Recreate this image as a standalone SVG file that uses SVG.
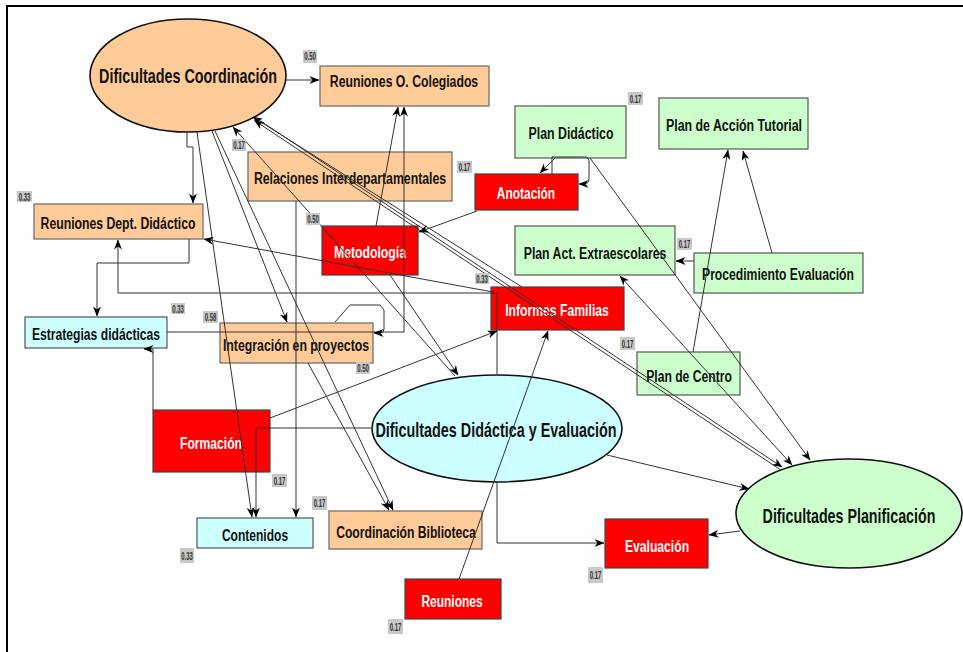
<svg xmlns="http://www.w3.org/2000/svg" width="963" height="652" viewBox="0 0 963 652">
<style>
text{font-family:"Liberation Sans",Arial,sans-serif;font-weight:bold;text-anchor:middle}
.t{font-size:17px;fill:#111}
.tw{font-size:17px;fill:#fff}
.te{font-size:20px;fill:#111}
.peach{fill:#FFCC99;stroke:#666;stroke-width:1.2}
.red{fill:#FF0000;stroke:#444;stroke-width:1.2}
.green{fill:#CCFFCC;stroke:#555;stroke-width:1.2}
.cyan{fill:#CCFFFF;stroke:#555;stroke-width:1.2}
.ell{stroke:#111;stroke-width:1.6}
.lbl rect{fill:#C8C8C8}
.lbl text{font-size:10px;fill:#333}
#connectors path{fill:none;stroke:#333;stroke-width:1}
</style>
<defs>
<marker id="ar" viewBox="0 0 10 8" refX="9.5" refY="4" markerWidth="10" markerHeight="8" markerUnits="userSpaceOnUse" orient="auto-start-reverse">
<path d="M0,0 L10,4 L0,8 L3,4 z" fill="#000"/>
</marker>
</defs>
<rect width="963" height="652" fill="#fff"/>
<path d="M7,652 V6 H963" fill="none" stroke="#000" stroke-width="2"/>

<g id="n-dc"><ellipse class="peach ell" cx="188" cy="75.5" rx="98" ry="56.5"/><text class="te" transform="matrix(0.72,0,0,1,188,83)" x="0" y="0" textLength="247" lengthAdjust="spacingAndGlyphs">Dificultades Coordinación</text></g>
<g id="n-roc"><rect class="peach" x="320" y="66" width="169" height="40"/><text class="t" transform="matrix(0.72,0,0,1,404,87)" x="0" y="0" textLength="206" lengthAdjust="spacingAndGlyphs">Reuniones O. Colegiados</text></g>
<g id="n-rel"><rect class="peach" x="248" y="152" width="204" height="49"/><text class="t" transform="matrix(0.72,0,0,1,350,184)" x="0" y="0" textLength="267" lengthAdjust="spacingAndGlyphs">Relaciones Interdepartamentales</text></g>
<g id="n-rdd"><rect class="peach" x="34" y="204" width="169" height="35"/><text class="t" transform="matrix(0.72,0,0,1,118,229)" x="0" y="0" textLength="215" lengthAdjust="spacingAndGlyphs">Reuniones Dept. Didáctico</text></g>
<g id="n-met"><rect class="red" x="322" y="226" width="96" height="49"/><text class="tw" transform="matrix(0.72,0,0,1,370,258)" x="0" y="0" textLength="100" lengthAdjust="spacingAndGlyphs">Metodología</text></g>
<g id="n-ano"><rect class="red" x="475" y="174" width="103" height="36"/><text class="tw" transform="matrix(0.72,0,0,1,526,199)" x="0" y="0" textLength="81" lengthAdjust="spacingAndGlyphs">Anotación</text></g>
<g id="n-pd"><rect class="green" x="515" y="106" width="111" height="52"/><text class="t" transform="matrix(0.72,0,0,1,571,139)" x="0" y="0" textLength="118" lengthAdjust="spacingAndGlyphs">Plan Didáctico</text></g>
<g id="n-pat"><rect class="green" x="659" y="98" width="149" height="51"/><text class="t" transform="matrix(0.72,0,0,1,734,131)" x="0" y="0" textLength="189" lengthAdjust="spacingAndGlyphs">Plan de Acción Tutorial</text></g>
<g id="n-pae"><rect class="green" x="515" y="226" width="160" height="49"/><text class="t" transform="matrix(0.72,0,0,1,595,259)" x="0" y="0" textLength="198" lengthAdjust="spacingAndGlyphs">Plan Act. Extraescolares</text></g>
<g id="n-pe"><rect class="green" x="694" y="253" width="169" height="40"/><text class="t" transform="matrix(0.72,0,0,1,778,280)" x="0" y="0" textLength="211" lengthAdjust="spacingAndGlyphs">Procedimiento Evaluación</text></g>
<g id="n-if"><rect class="red" x="491" y="287" width="133" height="43"/><text class="tw" transform="matrix(0.72,0,0,1,557,316)" x="0" y="0" textLength="144" lengthAdjust="spacingAndGlyphs">Informes Familias</text></g>
<g id="n-ed"><rect class="cyan" x="25" y="317" width="142" height="31"/><text class="t" transform="matrix(0.72,0,0,1,96,340)" x="0" y="0" textLength="178" lengthAdjust="spacingAndGlyphs">Estrategias didácticas</text></g>
<g id="n-ip"><rect class="peach" x="220" y="323" width="153" height="40"/><text class="t" transform="matrix(0.72,0,0,1,296,351)" x="0" y="0" textLength="203" lengthAdjust="spacingAndGlyphs">Integración en proyectos</text></g>
<g id="n-pc"><rect class="green" x="637" y="352" width="103" height="43"/><text class="t" transform="matrix(0.72,0,0,1,689,382)" x="0" y="0" textLength="119" lengthAdjust="spacingAndGlyphs">Plan de Centro</text></g>
<g id="n-for"><rect class="red" x="153" y="410" width="117" height="62"/><text class="tw" transform="matrix(0.72,0,0,1,211,449)" x="0" y="0" textLength="86" lengthAdjust="spacingAndGlyphs">Formación</text></g>
<g id="n-dde"><ellipse class="cyan ell" cx="497" cy="428.5" rx="125" ry="53.5"/><text class="te" transform="matrix(0.72,0,0,1,496,437)" x="0" y="0" textLength="335" lengthAdjust="spacingAndGlyphs">Dificultades Didáctica y Evaluación</text></g>
<g id="n-dp"><ellipse class="green ell" cx="849" cy="513.5" rx="113" ry="54.5"/><text class="te" transform="matrix(0.72,0,0,1,849,523)" x="0" y="0" textLength="240" lengthAdjust="spacingAndGlyphs">Dificultades Planificación</text></g>
<g id="n-con"><rect class="cyan" x="197" y="518" width="116" height="30"/><text class="t" transform="matrix(0.72,0,0,1,255,541)" x="0" y="0" textLength="92" lengthAdjust="spacingAndGlyphs">Contenidos</text></g>
<g id="n-cb"><rect class="peach" x="329" y="511" width="153" height="38"/><text class="t" transform="matrix(0.72,0,0,1,406,538)" x="0" y="0" textLength="194" lengthAdjust="spacingAndGlyphs">Coordinación Biblioteca</text></g>
<g id="n-eva"><rect class="red" x="605" y="519" width="103" height="49"/><text class="tw" transform="matrix(0.72,0,0,1,657,552)" x="0" y="0" textLength="89" lengthAdjust="spacingAndGlyphs">Evaluación</text></g>
<g id="n-reu"><rect class="red" x="405" y="579" width="96" height="40"/><text class="tw" transform="matrix(0.72,0,0,1,452,607)" x="0" y="0" textLength="85" lengthAdjust="spacingAndGlyphs">Reuniones</text></g>

<g id="connectors">
<path d="M286,80 H319" marker-end="url(#ar)"/>
<path d="M187,132 V147 H193 V203" marker-end="url(#ar)"/>
<path d="M197,132 L252,517" marker-end="url(#ar)"/>
<path d="M212,131 L287,322" marker-end="url(#ar)"/>
<path d="M215,131 L393,510" marker-end="url(#ar)"/>
<path d="M308,363 L389,510" marker-end="url(#ar)"/>
<path d="M455,376 L233,127" marker-end="url(#ar)"/>
<path d="M390,275 L458,375" marker-end="url(#ar)"/>
<path d="M522,287 L253,117" marker-end="url(#ar)"/>
<path d="M256,118 L782,467" marker-end="url(#ar)"/>
<path d="M780,469.5 L254.5,120.5" marker-end="url(#ar)"/>
<path d="M376,226 L398,107" marker-end="url(#ar)"/>
<path d="M167,332 H404 V107" marker-end="url(#ar)"/>
<path d="M335,322 L350,305 H380 L384,310 V329 Q384,333 380,333 H374" marker-end="url(#ar)"/>
<path d="M296,201 V517" marker-end="url(#ar)"/>
<path d="M493,292 L204,239" marker-end="url(#ar)"/>
<path d="M497,375 V293 H118 V240" marker-end="url(#ar)"/>
<path d="M270,418 L497,331" marker-end="url(#ar)"/>
<path d="M372,428 H256 V517" marker-end="url(#ar)"/>
<path d="M459,579 L548,331" marker-end="url(#ar)"/>
<path d="M497,482 V543 H604" marker-end="url(#ar)"/>
<path d="M607,455 L749,489" marker-end="url(#ar)"/>
<path d="M740,531 L709,535" marker-end="url(#ar)"/>
<path d="M590,158 L810,460" marker-end="url(#ar)"/>
<path d="M792,465 L620,276" marker-start="url(#ar)" marker-end="url(#ar)"/>
<path d="M693,352 L728,150" marker-end="url(#ar)"/>
<path d="M772,253 L743,151" marker-end="url(#ar)"/>
<path d="M694,261 H676" marker-end="url(#ar)"/>
<path d="M477,211 L419,232" marker-end="url(#ar)"/>
<path d="M555,158 L540,173" marker-end="url(#ar)"/>
<path d="M552,174 V157 H585 Q589,157 589,162 V179 Q589,184 584,184 H579" marker-end="url(#ar)"/>
<path d="M189,239 V263 H97 V316" marker-end="url(#ar)"/>
<path d="M153,410 V349 H144" marker-end="url(#ar)"/>
</g>

<g id="labels">
<g class="lbl"><rect x="303" y="50" width="14" height="13"/><text transform="matrix(0.6,0,0,1,310,60)">0.50</text></g>
<g class="lbl"><rect x="232" y="139" width="14" height="12"/><text transform="matrix(0.6,0,0,1,239,149)">0.17</text></g>
<g class="lbl"><rect x="457" y="161" width="15" height="12"/><text transform="matrix(0.6,0,0,1,464.5,171)">0.17</text></g>
<g class="lbl"><rect x="17" y="191" width="15" height="11"/><text transform="matrix(0.6,0,0,1,24.5,200.5)">0.33</text></g>
<g class="lbl"><rect x="306" y="213" width="14" height="12"/><text transform="matrix(0.6,0,0,1,313,223)">0.50</text></g>
<g class="lbl"><rect x="628" y="92" width="15" height="13"/><text transform="matrix(0.6,0,0,1,635.5,102.5)">0.17</text></g>
<g class="lbl"><rect x="677" y="238" width="15" height="12"/><text transform="matrix(0.6,0,0,1,684.5,248)">0.17</text></g>
<g class="lbl"><rect x="475" y="273" width="14" height="11"/><text transform="matrix(0.6,0,0,1,482,282.5)">0.33</text></g>
<g class="lbl"><rect x="171" y="303" width="14" height="11"/><text transform="matrix(0.6,0,0,1,178,312.5)">0.33</text></g>
<g class="lbl"><rect x="203" y="311" width="15" height="12"/><text transform="matrix(0.6,0,0,1,210.5,321)">0.58</text></g>
<g class="lbl"><rect x="356" y="362" width="14" height="12"/><text transform="matrix(0.6,0,0,1,363,372)">0.50</text></g>
<g class="lbl"><rect x="620" y="337" width="15" height="13"/><text transform="matrix(0.6,0,0,1,627.5,347.5)">0.17</text></g>
<g class="lbl"><rect x="272" y="474" width="15" height="13"/><text transform="matrix(0.6,0,0,1,279.5,484.5)">0.17</text></g>
<g class="lbl"><rect x="312" y="496" width="15" height="14"/><text transform="matrix(0.6,0,0,1,319.5,507)">0.17</text></g>
<g class="lbl"><rect x="180" y="548" width="14" height="15"/><text transform="matrix(0.6,0,0,1,187,559.5)">0.33</text></g>
<g class="lbl"><rect x="588" y="567" width="15" height="16"/><text transform="matrix(0.6,0,0,1,595.5,579)">0.17</text></g>
<g class="lbl"><rect x="388" y="619" width="15" height="15"/><text transform="matrix(0.6,0,0,1,395.5,630.5)">0.17</text></g>
</g>
</svg>
